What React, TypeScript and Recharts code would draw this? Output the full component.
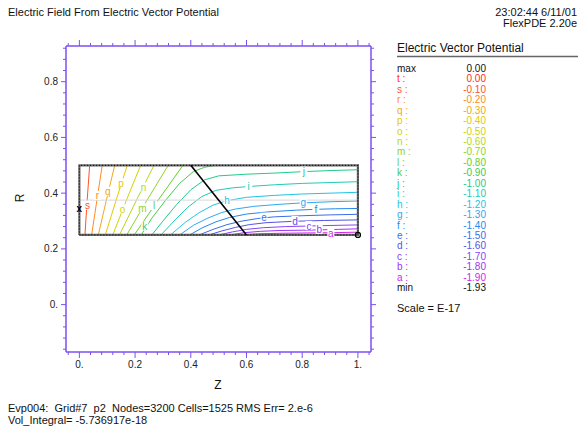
import { ScatterChart, Scatter, XAxis, YAxis } from "recharts";

// contour levels (legend order, top to bottom)
const levelLetters = ["t", "s", "r", "q", "p", "o", "n", "m", "l", "k", "j", "i", "h", "g", "f", "e", "d", "c", "b", "a"];
const levelValues = ["0.00", "-0.10", "-0.20", "-0.30", "-0.40", "-0.50", "-0.60", "-0.70", "-0.80", "-0.90", "-1.00", "-1.10", "-1.20", "-1.30", "-1.40", "-1.50", "-1.60", "-1.70", "-1.80", "-1.90"];
const levelColors = ["#ff2a1e", "#ff5424", "#ff8a24", "#f0a820", "#e8c800", "#d0d400", "#b4d820", "#8cd428", "#64d02c", "#40cc50", "#20cc88", "#20ccb4", "#22c4e4", "#2ea8f2", "#2488ee", "#3c6cf0", "#5454e4", "#8a44f4", "#a430f4", "#d424ec"];

const contourS = [{ z: 0.02, r: 0.25 }, { z: 0.028, r: 0.375 }, { z: 0.037, r: 0.5 }];
const contourR = [{ z: 0.044, r: 0.25 }, { z: 0.063, r: 0.375 }, { z: 0.082, r: 0.5 }];
const contourQ = [{ z: 0.068, r: 0.25 }, { z: 0.097, r: 0.375 }, { z: 0.127, r: 0.5 }];
const contourP = [{ z: 0.093, r: 0.25 }, { z: 0.132, r: 0.375 }, { z: 0.172, r: 0.5 }];
const contourO = [{ z: 0.12, r: 0.25 }, { z: 0.169, r: 0.375 }, { z: 0.22, r: 0.5 }];
const contourN = [{ z: 0.144, r: 0.25 }, { z: 0.205, r: 0.375 }, { z: 0.268, r: 0.5 }];
const contourM = [{ z: 0.17, r: 0.25 }, { z: 0.243, r: 0.375 }, { z: 0.319, r: 0.5 }];
const contourL = [{ z: 0.197, r: 0.25 }, { z: 0.283, r: 0.375 }, { z: 0.372, r: 0.5 }];
const contourK = [{ z: 0.222, r: 0.25 }, { z: 0.26, r: 0.31 }, { z: 0.31, r: 0.375 }, { z: 0.36, r: 0.435 }, { z: 0.41, r: 0.478 }, { z: 0.45, r: 0.493 }, { z: 0.49, r: 0.5 }];
const contourJ = [{ z: 0.26, r: 0.25 }, { z: 0.3, r: 0.3 }, { z: 0.35, r: 0.36 }, { z: 0.4, r: 0.412 }, { z: 0.45, r: 0.448 }, { z: 0.5, r: 0.462 }, { z: 0.6, r: 0.468 }, { z: 0.7, r: 0.472 }, { z: 0.8, r: 0.477 }, { z: 0.9, r: 0.481 }, { z: 1.0, r: 0.484 }];
const contourI = [{ z: 0.293, r: 0.25 }, { z: 0.34, r: 0.3 }, { z: 0.39, r: 0.35 }, { z: 0.44, r: 0.388 }, { z: 0.49, r: 0.41 }, { z: 0.55, r: 0.419 }, { z: 0.61, r: 0.424 }, { z: 0.7, r: 0.43 }, { z: 0.8, r: 0.435 }, { z: 0.9, r: 0.438 }, { z: 1.0, r: 0.441 }];
const contourH = [{ z: 0.327, r: 0.25 }, { z: 0.38, r: 0.295 }, { z: 0.43, r: 0.33 }, { z: 0.48, r: 0.357 }, { z: 0.53, r: 0.373 }, { z: 0.6, r: 0.385 }, { z: 0.7, r: 0.392 }, { z: 0.8, r: 0.397 }, { z: 0.9, r: 0.4 }, { z: 1.0, r: 0.403 }];
const contourG = [{ z: 0.36, r: 0.25 }, { z: 0.41, r: 0.285 }, { z: 0.46, r: 0.31 }, { z: 0.51, r: 0.33 }, { z: 0.56, r: 0.343 }, { z: 0.63, r: 0.353 }, { z: 0.72, r: 0.36 }, { z: 0.8, r: 0.365 }, { z: 0.9, r: 0.369 }, { z: 1.0, r: 0.372 }];
const contourF = [{ z: 0.396, r: 0.25 }, { z: 0.44, r: 0.275 }, { z: 0.49, r: 0.297 }, { z: 0.54, r: 0.313 }, { z: 0.6, r: 0.325 }, { z: 0.68, r: 0.333 }, { z: 0.78, r: 0.339 }, { z: 0.85, r: 0.342 }, { z: 0.92, r: 0.344 }, { z: 1.0, r: 0.345 }];
const contourE = [{ z: 0.43, r: 0.25 }, { z: 0.48, r: 0.27 }, { z: 0.53, r: 0.287 }, { z: 0.58, r: 0.299 }, { z: 0.64, r: 0.309 }, { z: 0.7, r: 0.315 }, { z: 0.8, r: 0.319 }, { z: 0.9, r: 0.322 }, { z: 1.0, r: 0.324 }];
const contourD = [{ z: 0.465, r: 0.25 }, { z: 0.51, r: 0.264 }, { z: 0.56, r: 0.277 }, { z: 0.61, r: 0.287 }, { z: 0.67, r: 0.294 }, { z: 0.77, r: 0.299 }, { z: 0.88, r: 0.302 }, { z: 1.0, r: 0.304 }];
const contourC = [{ z: 0.5, r: 0.25 }, { z: 0.55, r: 0.261 }, { z: 0.6, r: 0.27 }, { z: 0.66, r: 0.276 }, { z: 0.74, r: 0.28 }, { z: 0.82, r: 0.282 }, { z: 0.9, r: 0.284 }, { z: 1.0, r: 0.286 }];
const contourB = [{ z: 0.54, r: 0.25 }, { z: 0.59, r: 0.258 }, { z: 0.65, r: 0.263 }, { z: 0.72, r: 0.266 }, { z: 0.8, r: 0.267 }, { z: 0.86, r: 0.268 }, { z: 0.93, r: 0.27 }, { z: 1.0, r: 0.272 }];
const contourA = [{ z: 0.58, r: 0.25 }, { z: 0.64, r: 0.254 }, { z: 0.72, r: 0.256 }, { z: 0.8, r: 0.257 }, { z: 0.9, r: 0.258 }, { z: 1.0, r: 0.26 }];

// where the letter tags sit on the contours
const contourTags = [
  { z: 0.029, r: 0.355, ch: "s" }, { z: 0.065, r: 0.39, ch: "r" }, { z: 0.102, r: 0.405, ch: "q" },
  { z: 0.15, r: 0.435, ch: "p" }, { z: 0.155, r: 0.342, ch: "o" }, { z: 0.23, r: 0.421, ch: "n" },
  { z: 0.226, r: 0.346, ch: "m" }, { z: 0.268, r: 0.354, ch: "l" }, { z: 0.235, r: 0.28, ch: "k" },
  { z: 0.806, r: 0.477, ch: "j" }, { z: 0.608, r: 0.423, ch: "i" }, { z: 0.53, r: 0.374, ch: "h" },
  { z: 0.804, r: 0.366, ch: "g" }, { z: 0.849, r: 0.343, ch: "f" }, { z: 0.663, r: 0.312, ch: "e" },
  { z: 0.774, r: 0.3, ch: "d" }, { z: 0.824, r: 0.282, ch: "c" }, { z: 0.861, r: 0.268, ch: "b" },
  { z: 0.903, r: 0.256, ch: "a" },
];

const domainOutline = [{ z: 0, r: 0.25 }, { z: 1, r: 0.25 }, { z: 1, r: 0.5 }, { z: 0, r: 0.5 }, { z: 0, r: 0.25 }];
const interfaceLine = [{ z: 0.4, r: 0.5 }, { z: 0.6, r: 0.25 }];
const elevationPath = [{ z: 0, r: 0.375 }, { z: 1, r: 0.375 }];
const maxMark = [{ z: 0, r: 0.346 }];
const minMark = [{ z: 1, r: 0.25 }];

const xMajor = [0, 0.2, 0.4, 0.6, 0.8, 1];
const xTickLabels = ["0.", "0.2", "0.4", "0.6", "0.8", "1."];
const xMinor = [-0.04, 0, 0.04, 0.08, 0.12, 0.16, 0.2, 0.24, 0.28, 0.32, 0.36, 0.4, 0.44, 0.48, 0.52, 0.56, 0.6, 0.64, 0.68, 0.72, 0.76, 0.8, 0.84, 0.88, 0.92, 0.96, 1, 1.04];
const yMajor = [0, 0.2, 0.4, 0.6, 0.8];
const yTickLabels = ["0.", "0.2", "0.4", "0.6", "0.8"];
const yMinor = [-0.16, -0.12, -0.08, -0.04, 0, 0.04, 0.08, 0.12, 0.16, 0.2, 0.24, 0.28, 0.32, 0.36, 0.4, 0.44, 0.48, 0.52, 0.56, 0.6, 0.64, 0.68, 0.72, 0.76, 0.8, 0.84, 0.88, 0.92];

const FRAME = "#7d4ff2";
const FONT = "'Liberation Sans', Arial, sans-serif";

const contours = [
  { ch: "s", pts: contourS }, { ch: "r", pts: contourR }, { ch: "q", pts: contourQ }, { ch: "p", pts: contourP },
  { ch: "o", pts: contourO }, { ch: "n", pts: contourN }, { ch: "m", pts: contourM }, { ch: "l", pts: contourL },
  { ch: "k", pts: contourK }, { ch: "j", pts: contourJ }, { ch: "i", pts: contourI }, { ch: "h", pts: contourH },
  { ch: "g", pts: contourG }, { ch: "f", pts: contourF }, { ch: "e", pts: contourE }, { ch: "d", pts: contourD },
  { ch: "c", pts: contourC }, { ch: "b", pts: contourB }, { ch: "a", pts: contourA },
];

const colorOf = (ch: string) => levelColors[levelLetters.indexOf(ch)];
const majorIndex = (list: number[], v: number) => list.findIndex((m) => Math.abs(m - v) < 1e-6);
const noDot = () => <g />;

const BottomTick = ({ x, y, payload }: any) => {
  const i = majorIndex(xMajor, payload.value);
  return (
    <g>
      <line x1={x} x2={x} y1={y} y2={y + (i >= 0 ? 6 : 3)} stroke={FRAME} />
      {i >= 0 && (
        <text x={x} y={y + 16} textAnchor="middle" fontSize={10} fontFamily={FONT} fill="#222">
          {xTickLabels[i]}
        </text>
      )}
    </g>
  );
};

const TopTick = ({ x, y, payload }: any) => {
  const i = majorIndex(xMajor, payload.value);
  return <line x1={x} x2={x} y1={y} y2={y - (i >= 0 ? 6 : 3)} stroke={FRAME} />;
};

const LeftTick = ({ x, y, payload }: any) => {
  const i = majorIndex(yMajor, payload.value);
  return (
    <g>
      <line x1={x} x2={x - (i >= 0 ? 5 : 3)} y1={y} y2={y} stroke={FRAME} />
      {i >= 0 && (
        <text x={x - 8} y={y + 3.5} textAnchor="end" fontSize={10} fontFamily={FONT} fill="#222">
          {yTickLabels[i]}
        </text>
      )}
    </g>
  );
};

const RightTick = ({ x, y, payload }: any) => {
  const i = majorIndex(yMajor, payload.value);
  return <line x1={x} x2={x + (i >= 0 ? 5 : 3)} y1={y} y2={y} stroke={FRAME} />;
};

const TagShape = ({ cx, cy, payload }: any) => (
  <g>
    <rect x={cx - 3.5} y={cy - 5} width={7} height={9} fill="#fff" />
    <text x={cx} y={cy + 3.5} textAnchor="middle" fontSize={10} fontFamily={FONT} fill={colorOf(payload.ch)}>
      {payload.ch}
    </text>
  </g>
);

const MaxShape = ({ cx, cy }: any) => (
  <text x={cx} y={cy + 3.5} textAnchor="middle" fontSize={10} fontWeight="bold" fontFamily={FONT} fill="#000">
    x
  </text>
);

const MinShape = ({ cx, cy }: any) => <circle cx={cx} cy={cy} r={2.5} fill="none" stroke="#000" strokeWidth={1.3} />;

export default function App() {
  const rowTop = 68.3;
  const rowStep = 10.45;
  const legendFont = 10;
  return (
    <div style={{ position: "absolute", left: 0, top: 0, width: 581, height: 430, background: "#fff" }}>
      <ScatterChart width={581} height={430} margin={{ top: 36, right: 200, bottom: 48, left: 26 }}>
        <XAxis
          xAxisId={0}
          type="number"
          dataKey="z"
          domain={[-0.048, 1.047]}
          allowDataOverflow
          ticks={xMinor}
          interval={0}
          tick={<BottomTick />}
          tickLine={false}
          tickSize={0}
          tickMargin={0}
          height={30}
          axisLine={{ stroke: FRAME, strokeWidth: 1.5 }}
        />
        <XAxis
          xAxisId="top"
          orientation="top"
          type="number"
          dataKey="z"
          domain={[-0.048, 1.047]}
          allowDataOverflow
          ticks={xMinor}
          interval={0}
          tick={<TopTick />}
          tickLine={false}
          tickSize={0}
          tickMargin={0}
          height={10}
          axisLine={{ stroke: FRAME, strokeWidth: 1.5 }}
        />
        <YAxis
          yAxisId={0}
          type="number"
          dataKey="r"
          domain={[-0.17, 0.928]}
          allowDataOverflow
          ticks={yMinor}
          interval={0}
          tick={<LeftTick />}
          tickLine={false}
          tickSize={0}
          tickMargin={0}
          width={40}
          axisLine={{ stroke: FRAME, strokeWidth: 1.5 }}
        />
        <YAxis
          yAxisId="right"
          orientation="right"
          type="number"
          dataKey="r"
          domain={[-0.17, 0.928]}
          allowDataOverflow
          ticks={yMinor}
          interval={0}
          tick={<RightTick />}
          tickLine={false}
          tickSize={0}
          tickMargin={0}
          width={10}
          axisLine={{ stroke: FRAME, strokeWidth: 1.5 }}
        />
        {contours.map((c) => (
          <Scatter
            key={c.ch}
            data={c.pts}
            line={{ stroke: colorOf(c.ch), strokeWidth: 1 }}
            shape={noDot}
            isAnimationActive={false}
          />
        ))}
        <Scatter data={elevationPath} line={{ stroke: "#d8d8d8", strokeWidth: 1 }} shape={noDot} isAnimationActive={false} />
        <Scatter data={domainOutline} line={{ stroke: "#6a6a6a", strokeWidth: 2.2 }} shape={noDot} isAnimationActive={false} />
        <Scatter data={domainOutline} line={{ stroke: "#111", strokeWidth: 1.2, strokeDasharray: "1 2" }} shape={noDot} isAnimationActive={false} />
        <Scatter data={interfaceLine} line={{ stroke: "#000", strokeWidth: 1.6 }} shape={noDot} isAnimationActive={false} />
        <Scatter data={contourTags} shape={<TagShape />} isAnimationActive={false} />
        <Scatter data={maxMark} shape={<MaxShape />} isAnimationActive={false} />
        <Scatter data={minMark} shape={<MinShape />} isAnimationActive={false} />
      </ScatterChart>
      <svg width={581} height={430} style={{ position: "absolute", left: 0, top: 0, pointerEvents: "none" }} fontFamily={FONT}>
        <text x={8} y={16} fontSize={11} fill="#111">Electric Field From Electric Vector Potential</text>
        <text x={577} y={16} fontSize={11} fill="#111" textAnchor="end">23:02:44 6/11/01</text>
        <text x={577} y={27} fontSize={11} fill="#111" textAnchor="end">FlexPDE 2.20e</text>
        <text x={218} y={389} fontSize={12} fill="#111" textAnchor="middle">Z</text>
        <text x={24} y={198} fontSize={12} fill="#111" textAnchor="middle" transform="rotate(-90 24 198)">R</text>
        <text x={397} y={52} fontSize={12} fill="#111">Electric Vector Potential</text>
        <line x1={397} x2={578} y1={56.5} y2={56.5} stroke="#666" strokeWidth={1.5} />
        <text x={397} y={rowTop + 3.5} fontSize={legendFont} fill="#111">max</text>
        <text x={486} y={rowTop + 3.5} fontSize={legendFont} fill="#111" textAnchor="end">0.00</text>
        {levelLetters.map((ch, i) => (
          <g key={ch}>
            <text x={397} y={rowTop + rowStep * (i + 1) + 3.5} fontSize={legendFont} fill={levelColors[i]}>{ch + " :"}</text>
            <text x={486} y={rowTop + rowStep * (i + 1) + 3.5} fontSize={legendFont} fill={levelColors[i]} textAnchor="end">{levelValues[i]}</text>
          </g>
        ))}
        <text x={397} y={rowTop + rowStep * 21 + 3.5} fontSize={legendFont} fill="#111">min</text>
        <text x={486} y={rowTop + rowStep * 21 + 3.5} fontSize={legendFont} fill="#111" textAnchor="end">-1.93</text>
        <text x={397} y={312} fontSize={11} fill="#111">Scale = E-17</text>
        <text x={8} y={412} fontSize={11} fill="#111" style={{ whiteSpace: "pre" }}>Evp004:  Grid#7  p2  Nodes=3200 Cells=1525 RMS Err= 2.e-6</text>
        <text x={8} y={424} fontSize={11} fill="#111">Vol_Integral= -5.736917e-18</text>
      </svg>
    </div>
  );
}
